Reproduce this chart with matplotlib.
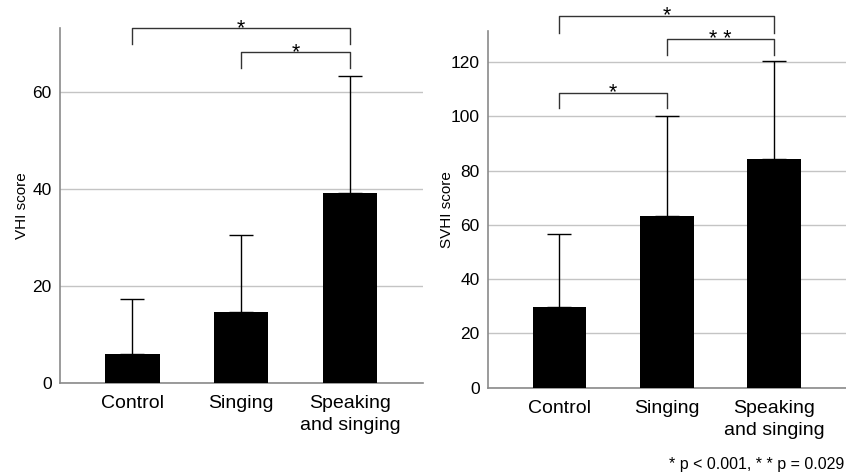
import matplotlib
matplotlib.use("Agg")
import matplotlib.pyplot as plt

plt.rcParams['font.family'] = ['Liberation Sans', 'DejaVu Sans']

groups = ["Control", "Singing", "Speaking\nand singing"]

vhi_mean = [5.9, 14.7, 39.2]
vhi_sd = [11.4, 15.8, 24.2]

svhi_mean = [29.8, 63.4, 84.2]
svhi_sd = [26.7, 36.8, 36.3]

# significance brackets: (from group, to group, height, drop, mark)
vhi_brackets = [(0, 2, 73.1, 3.3, "*"), (1, 2, 68.2, 3.3, "*")]
svhi_brackets = [(0, 2, 137.1, 6.5, "*"), (1, 2, 128.4, 5.8, "* *"),
                 (0, 1, 108.7, 5.8, "*")]

footnote = "* p < 0.001, * * p = 0.029"


def draw_panel(ax, means, sds, brackets, ylabel, ymax, yticks):
    x = range(len(groups))
    ax.bar(x, means, width=0.5, color="black", zorder=3,
           yerr=[[0] * len(sds), sds], capsize=8.5,
           error_kw=dict(ecolor="black", elinewidth=1.0, capthick=1.0, zorder=2))
    ax.set_xlim(-0.665, 2.67)
    ax.set_ylim(0, ymax)
    ax.set_yticks(yticks)
    ax.yaxis.grid(True, color="#c4c4c4", linewidth=1.0, zorder=0)
    ax.set_axisbelow(True)
    ax.set_xticks(list(x))
    ax.set_xticklabels(groups, fontsize=14, linespacing=1.35)
    ax.tick_params(axis="x", length=0, pad=9)
    ax.tick_params(axis="y", length=0, pad=6, labelsize=12.5)
    ax.set_ylabel(ylabel, fontsize=11)
    for s in ["top", "right"]:
        ax.spines[s].set_visible(False)
    for s in ["left", "bottom"]:
        ax.spines[s].set_color("#8a8a8a")
        ax.spines[s].set_linewidth(1.2)
    for i, j, y, drop, mark in brackets:
        ax.plot([i, i, j, j], [y - drop, y, y, y - drop], color="#333333",
                linewidth=1.0, clip_on=False)
        ax.annotate(mark, ((i + j) / 2, y), xytext=(0, -4.2),
                    textcoords="offset points", ha="center", va="baseline",
                    fontsize=15.5, annotation_clip=False)


fig = plt.figure(figsize=(8.46, 4.74), dpi=100)
ax1 = fig.add_axes([60 / 846, 1 - 383 / 474, 363 / 846, 355 / 474])
ax2 = fig.add_axes([488 / 846, 1 - 387.7 / 474, 358 / 846, 356.7 / 474])

draw_panel(ax1, vhi_mean, vhi_sd, vhi_brackets, "VHI score", 73.2, [0, 20, 40, 60])
draw_panel(ax2, svhi_mean, svhi_sd, svhi_brackets, "SVHI score", 131.4,
           [0, 20, 40, 60, 80, 100, 120])

ax1.yaxis.set_label_coords(-0.085, 0.5)
ax2.yaxis.set_label_coords(-0.095, 0.5)

fig.text(844 / 846, 1 - 465 / 474, footnote, fontsize=11.5, ha="right", va="center")

fig.savefig("out.png", dpi=100)
